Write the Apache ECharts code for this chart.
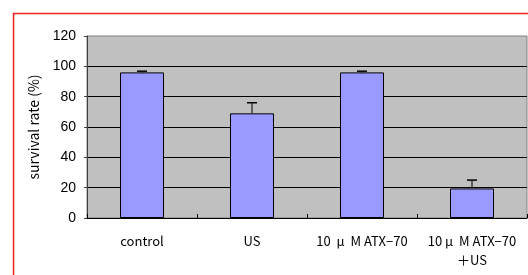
<!DOCTYPE html>
<html>
<head>
<meta charset="utf-8">
<script src="https://cdn.jsdelivr.net/npm/echarts@6/dist/echarts.min.js"></script>
<style>
  html, body { margin: 0; padding: 0; background: #fff; }
  #chart { width: 528px; height: 275px; }
</style>
</head>
<body>
<div id="chart"></div>
<script>
  // values
  var categories = ['control', 'US', '10 μ M ATX−70', '10μ M ATX−70\n＋US']
  var survival = [96, 69, 96, 19.5]
  var errUp = [0.8, 7, 0.8, 5.5]
  var yTicks = [0, 20, 40, 60, 80, 100, 120]

  var numFont = '"Liberation Sans", Arial, sans-serif'
  var textFont = '"Noto Sans CJK JP", "Liberation Sans", sans-serif'

  // the original renders μ as a full-width glyph, so give it a wider box
  function wideMu(s) {
    return s.replace(/μ/g, '{mu|μ}')
  }

  var chart = echarts.init(document.getElementById('chart'))
  chart.setOption({
    animation: false,
    backgroundColor: '#fff',
    graphic: [{
      type: 'rect',
      shape: { x: 13.5, y: 13.5, width: 600, height: 400 },
      style: { fill: 'none', stroke: '#ee2222', lineWidth: 1.5 },
      silent: true
    }],
    grid: {
      left: 87,
      right: 1,
      top: 36,
      bottom: 57,
      show: true,
      backgroundColor: '#c0c0c0',
      borderColor: '#808080',
      borderWidth: 1
    },
    xAxis: {
      type: 'category',
      data: categories,
      axisLine: { lineStyle: { color: '#000', width: 1 } },
      axisTick: { show: true, inside: true, length: 4, lineStyle: { color: '#000' } },
      axisLabel: {
        interval: 0,
        margin: 14,
        color: '#000',
        fontSize: 13,
        fontFamily: textFont,
        lineHeight: 19,
        formatter: wideMu,
        rich: {
          mu: { width: 14, align: 'left', fontSize: 13, fontFamily: textFont, color: '#000', lineHeight: 19 }
        }
      }
    },
    yAxis: {
      type: 'value',
      min: yTicks[0],
      max: yTicks[yTicks.length - 1],
      interval: 20,
      name: 'survival rate (%)',
      nameLocation: 'middle',
      nameGap: 46,
      nameRotate: 90,
      nameTextStyle: { color: '#000', fontSize: 14, fontFamily: textFont },
      axisLine: { show: true, lineStyle: { color: '#404040' } },
      axisTick: { show: true, length: 3, lineStyle: { color: '#404040' } },
      axisLabel: { color: '#000', fontSize: 14, fontFamily: numFont, margin: 11 },
      splitLine: { show: true, showMaxLine: false, lineStyle: { color: '#000', width: 1 } }
    },
    series: [
      {
        type: 'bar',
        data: survival,
        barWidth: '40%',
        itemStyle: { color: '#9999ff', borderColor: '#000', borderWidth: 1 }
      },
      {
        type: 'custom',
        data: survival.map(function (v, i) { return [i, v, v + errUp[i]] }),
        renderItem: function (params, api) {
          var low = api.coord([api.value(0), api.value(1)])
          var high = api.coord([api.value(0), api.value(2)])
          var half = 5
          return {
            type: 'group',
            children: [
              { type: 'line', shape: { x1: low[0], y1: low[1], x2: high[0], y2: high[1] }, style: { stroke: '#000', lineWidth: 1 } },
              { type: 'line', shape: { x1: high[0] - half, y1: high[1], x2: high[0] + half, y2: high[1] }, style: { stroke: '#000', lineWidth: 1.5 } }
            ]
          }
        },
        z: 5
      }
    ]
  })
</script>
</body>
</html>
